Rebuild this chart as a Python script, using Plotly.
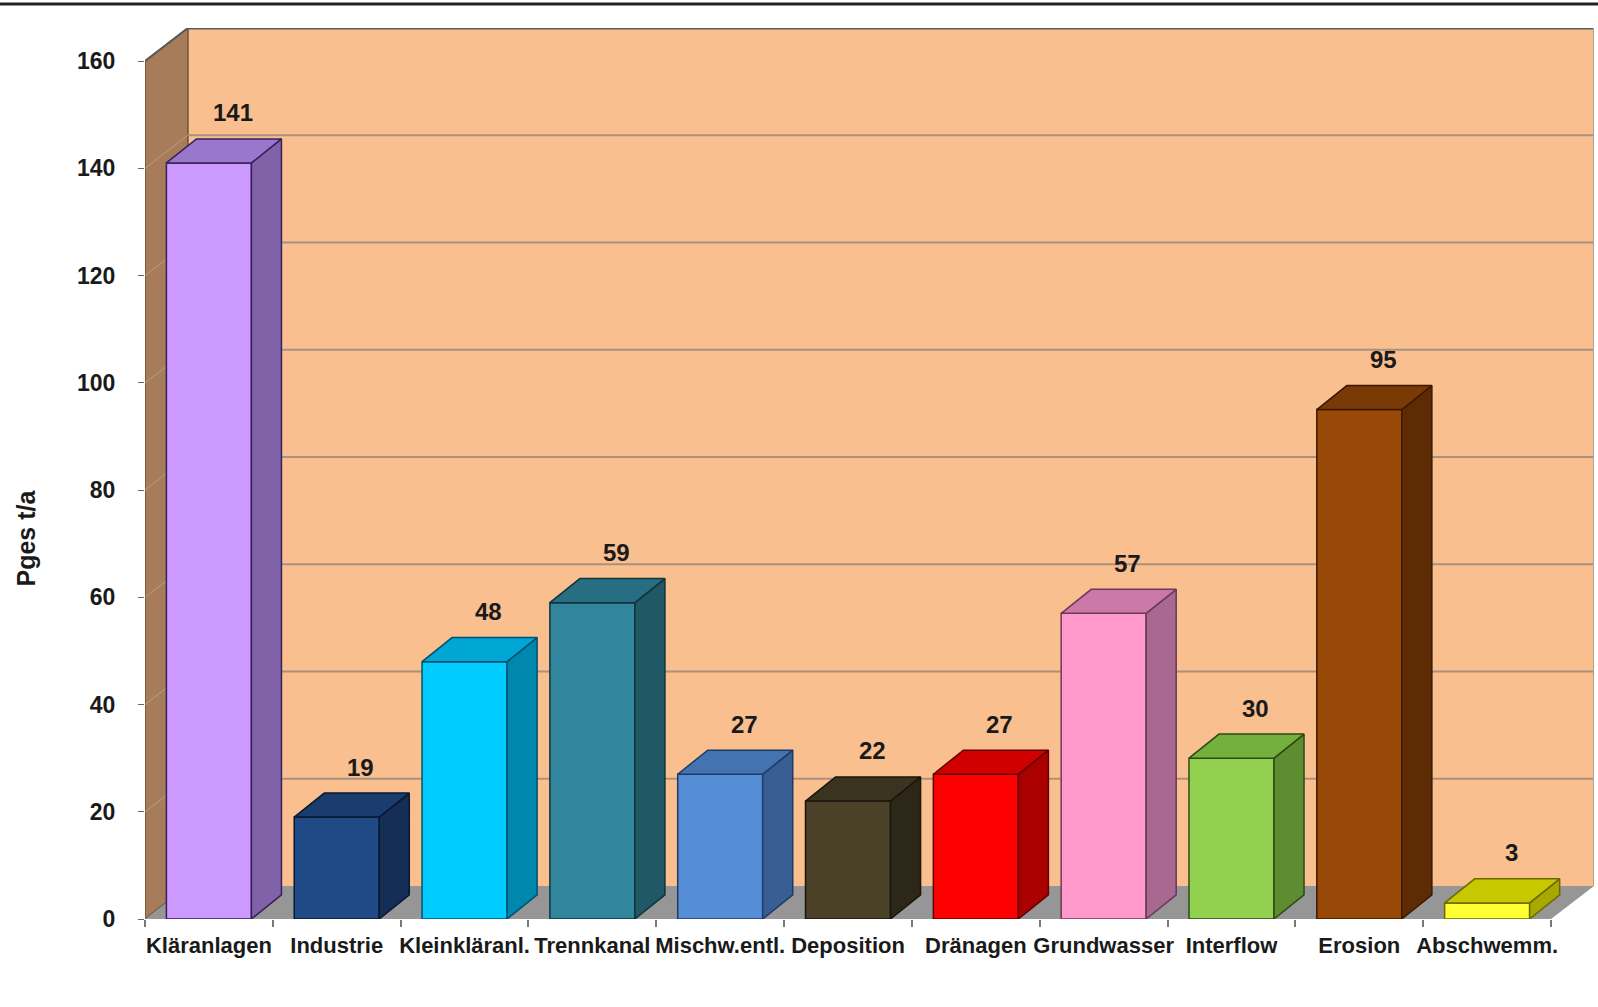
import plotly.graph_objects as go

categories = ["Kläranlagen", "Industrie", "Kleinkläranl.", "Trennkanal", "Mischw.entl.",
              "Deposition", "Dränagen", "Grundwasser", "Interflow", "Erosion", "Abschwemm."]
values = [141, 19, 48, 59, 27, 22, 27, 57, 30, 95, 3]
front_colors = ["#CC99FF", "#1F4A86", "#00CCFF", "#31859C", "#558ED5", "#4A4128",
                "#FF0000", "#FF99CC", "#92D050", "#984807", "#FFFF33"]
top_colors = ["#9877CC", "#1A3C6E", "#00A6D4", "#286E82", "#4473B2", "#3A3320",
              "#D00000", "#CC78A8", "#74B03E", "#7A3A06", "#C8C800"]
side_colors = ["#7F62A8", "#152E55", "#0087AE", "#205866", "#385E94", "#2C2718",
               "#AA0000", "#A86890", "#5E8C30", "#5E2C04", "#A8A800"]
edge_colors = ["#3A1E5A", "#0A1830", "#005070", "#10343E", "#1E3A66", "#1A160C",
               "#600000", "#6A3A58", "#2E4A14", "#3A1A02", "#6A6A00"]
y_ticks = [0, 20, 40, 60, 80, 100, 120, 140, 160]
y_title = "Pges t/a"

FONT = "Arial, 'Liberation Sans', sans-serif"
n = len(categories)
idx = list(range(n))
ymax = 160
dx, dy = 0.336, 6.17          # depth of walls (data units)
bdx, bdy = 0.235, 4.49        # depth of bars
bw = 0.665                    # bar width

fig = go.Figure()

shapes = []
x0, x1 = -0.5, n - 0.5
# back wall
shapes.append(dict(type="rect", xref="x", yref="y", x0=x0 + dx, x1=x1 + dx, y0=dy, y1=ymax + dy,
                   fillcolor="#F9BF8F", line=dict(width=0), layer="below"))
# left wall
shapes.append(dict(type="path", xref="x", yref="y",
                   path=f"M {x0},0 L {x0+dx},{dy} L {x0+dx},{ymax+dy} L {x0},{ymax} Z",
                   fillcolor="#A67C5A", line=dict(color="#6E5038", width=1.5), layer="below"))
# floor
shapes.append(dict(type="path", xref="x", yref="y",
                   path=f"M {x0},0 L {x1},0 L {x1+dx},{dy} L {x0+dx},{dy} Z",
                   fillcolor="#969696", line=dict(width=0), layer="below"))
# gridlines
for v in y_ticks[1:-1]:
    shapes.append(dict(type="line", xref="x", yref="y", x0=x0 + dx, x1=x1 + dx, y0=v + dy, y1=v + dy,
                       line=dict(color="#A8927F", width=2), layer="below"))
    shapes.append(dict(type="line", xref="x", yref="y", x0=x0, x1=x0 + dx, y0=v, y1=v + dy,
                       line=dict(color="#BF9C7C", width=1), layer="below"))
# top edge of back wall and left wall
shapes.append(dict(type="line", xref="x", yref="y", x0=x0 + dx, x1=x1 + dx, y0=ymax + dy, y1=ymax + dy,
                   line=dict(color="#5A5A5A", width=3), layer="below"))
shapes.append(dict(type="line", xref="x", yref="y", x0=x0, x1=x0 + dx, y0=ymax, y1=ymax + dy,
                   line=dict(color="#5A5A5A", width=2), layer="below"))
shapes.append(dict(type="line", xref="x", yref="y", x0=x1 + dx, x1=x1 + dx, y0=dy, y1=ymax + dy,
                   line=dict(color="#B0A090", width=2), layer="below"))
# top border line of the picture
shapes.append(dict(type="line", xref="paper", yref="paper", x0=-0.11, x1=1.01, y0=1.027, y1=1.027,
                   line=dict(color="#222222", width=3)))

# front faces
fig.add_trace(go.Bar(x=idx, y=values, width=bw, marker=dict(color=front_colors,
                     line=dict(color=edge_colors, width=1.5)), hoverinfo="skip", showlegend=False))

# side and top faces
for i, v in enumerate(values):
    xl, xr = i - bw / 2, i + bw / 2
    fig.add_trace(go.Scatter(x=[xr, xr + bdx, xr + bdx, xr, xr], y=[0, bdy, v + bdy, v, 0],
                             fill="toself", fillcolor=side_colors[i], mode="lines",
                             line=dict(color=edge_colors[i], width=1.5), hoverinfo="skip", showlegend=False))
    fig.add_trace(go.Scatter(x=[xl, xr, xr + bdx, xl + bdx, xl], y=[v, v, v + bdy, v + bdy, v],
                             fill="toself", fillcolor=top_colors[i], mode="lines",
                             line=dict(color=edge_colors[i], width=1.5), hoverinfo="skip", showlegend=False))

annotations = []
for i, v in enumerate(values):
    annotations.append(dict(x=i + bdx * 0.8, y=v + bdy, xref="x", yref="y", text=str(v),
                            showarrow=False, yshift=26, yanchor="middle",
                            font=dict(family=FONT, size=24, color="#1A1A1A", weight="bold")))
annotations.append(dict(x=-0.082, y=71, xref="paper", yref="y", text=y_title, textangle=-90,
                        showarrow=False, xanchor="center", yanchor="middle",
                        font=dict(family=FONT, size=25, color="#1A1A1A", weight="bold")))

fig.update_layout(
    width=1598, height=1007,
    margin=dict(l=145, r=4, t=28, b=88),
    paper_bgcolor="white", plot_bgcolor="white",
    shapes=shapes, annotations=annotations,
    xaxis=dict(range=[x0, x1 + dx], tickvals=idx, ticktext=categories, ticks="",
               showgrid=False, zeroline=False, showline=False, ticklabelstandoff=11,
               tickfont=dict(family=FONT, size=22, color="#1A1A1A", weight="bold"),
               minor=dict(tickvals=[k - 0.5 for k in range(n + 1)], ticks="outside", ticklen=7,
                          tickcolor="#777777", tickwidth=1.5, showgrid=False)),
    yaxis=dict(range=[0, ymax + dy], tickvals=y_ticks, ticks="outside", ticklen=6, tickcolor="#666666",
               showgrid=False, zeroline=False, showline=False, ticklabelstandoff=18,
               tickfont=dict(family=FONT, size=23, color="#1A1A1A", weight="bold")),
    bargap=0.3,
)

fig.write_html("out.html")
